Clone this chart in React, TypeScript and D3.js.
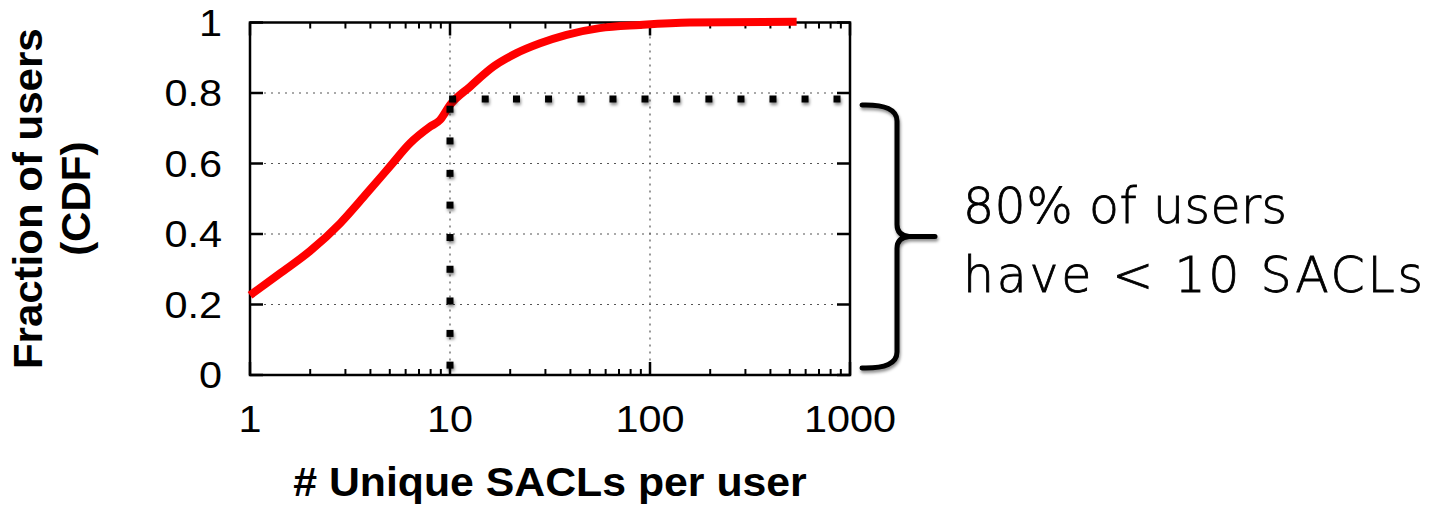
import React from "react";
import * as d3 from "d3";

// CDF curve: # unique SACLs per user vs fraction of users
const cdfX = [1, 1.41, 2, 2.82, 3.83, 5, 6.3, 7.94, 8.9, 10, 12.6, 16.5, 21.5, 28.2, 38.3, 56, 89, 158, 541];
const cdfY = [0.226, 0.288, 0.352, 0.43, 0.515, 0.591, 0.657, 0.704, 0.723, 0.766, 0.818, 0.875, 0.913, 0.941, 0.965, 0.984, 0.993, 1.0, 1.002];

// dotted marker guide: vertical at x=10, horizontal at y≈0.78
const vMarkX = 10;
const vMarkY = [0.028, 0.118, 0.21, 0.3, 0.39, 0.482, 0.572, 0.664, 0.754];
const hMarkY = 0.783;
const hMarkX = [10.3, 15, 21.5, 31.1, 45.2, 65.3, 94.4, 136, 197, 285, 412, 596, 861];

const xTicks = [1, 10, 100, 1000];
const yTicks = [0, 0.2, 0.4, 0.6, 0.8, 1];
const yGrid = [0.2, 0.4, 0.6, 0.8];
const xGrid = [10, 100];

const xLabel = "# Unique SACLs per user";
const yLabelLines = ["Fraction of users", "(CDF)"];
const annotationLines = ["80% of users", "have < 10 SACLs"];
const annotationWidths = [324, 460];

export default function App() {
  const left = 250, right = 850, top = 22.5, bottom = 375;
  const x = d3.scaleLog().domain([1, 1000]).range([left, right]);
  const y = d3.scaleLinear().domain([0, 1]).range([bottom, top]);

  const minor: number[] = [];
  for (const dec of [1, 10, 100]) for (let k = 2; k <= 9; k++) minor.push(dec * k);

  const line = d3.line<number>().x((_, i) => x(cdfX[i])).y((d) => y(d)).curve(d3.curveMonotoneX);

  const markers: [number, number][] = [
    ...vMarkY.map((v) => [vMarkX, v] as [number, number]),
    ...hMarkX.map((v) => [v, hMarkY] as [number, number]),
  ];

  const bTop = y(0.78) + 5, bBot = y(0) - 7, bMid = (bTop + bBot) / 2;
  const bx0 = 862, bx1 = 897, bx2 = 935;
  const brace = `M ${bx0} ${bTop} Q ${bx1} ${bTop - 1} ${bx1} ${bTop + 16} L ${bx1} ${bMid - 12} Q ${bx1} ${bMid - 1} ${bx1 + 12} ${bMid} L ${bx2} ${bMid} M ${bx1 + 12} ${bMid} Q ${bx1} ${bMid + 1} ${bx1} ${bMid + 12} L ${bx1} ${bBot - 16} Q ${bx1} ${bBot + 1} ${bx0} ${bBot}`;

  const tickFont = "'Liberation Sans', Arial, sans-serif";

  return (
    <svg width={1441} height={506} style={{ display: "block", position: "absolute", left: 0, top: 0 }}>
      <defs>
        <filter id="sh" x="-50%" y="-50%" width="200%" height="200%">
          <feDropShadow dx="1" dy="2.5" stdDeviation="1.6" floodColor="#000" floodOpacity="0.45" />
        </filter>
      </defs>
      <rect width={1441} height={506} fill="#fff" />
      {/* grid */}
      {yGrid.map((v) => (
        <line key={"gy" + v} x1={left} x2={right} y1={y(v)} y2={y(v)} stroke="#555" strokeWidth={1.2} strokeDasharray="2,5" />
      ))}
      {xGrid.map((v) => (
        <line key={"gx" + v} x1={x(v)} x2={x(v)} y1={top} y2={bottom} stroke="#555" strokeWidth={1.2} strokeDasharray="2,5" />
      ))}
      {/* ticks */}
      {yTicks.map((v) => (
        <g key={"yt" + v}>
          <line x1={left} x2={left + 13} y1={y(v)} y2={y(v)} stroke="#000" strokeWidth={2.5} />
          <line x1={right} x2={right - 13} y1={y(v)} y2={y(v)} stroke="#000" strokeWidth={2.5} />
          <text transform={`translate(222, ${y(v)}) scale(1.12, 1)`} dy="0.36em" textAnchor="end" fontFamily={tickFont} fontSize={37}>{String(v)}</text>
        </g>
      ))}
      {xTicks.map((v) => (
        <g key={"xt" + v}>
          <line x1={x(v)} x2={x(v)} y1={bottom} y2={bottom - 13} stroke="#000" strokeWidth={2.5} />
          <line x1={x(v)} x2={x(v)} y1={top} y2={top + 13} stroke="#000" strokeWidth={2.5} />
          <text transform={`translate(${x(v)}, 432) scale(1.12, 1)`} textAnchor="middle" fontFamily={tickFont} fontSize={37}>{String(v)}</text>
        </g>
      ))}
      {minor.map((v) => (
        <g key={"mt" + v}>
          <line x1={x(v)} x2={x(v)} y1={bottom} y2={bottom - 6} stroke="#000" strokeWidth={2} />
          <line x1={x(v)} x2={x(v)} y1={top} y2={top + 6} stroke="#000" strokeWidth={2} />
        </g>
      ))}
      {/* frame */}
      <rect x={left} y={top} width={right - left} height={bottom - top} fill="none" stroke="#000" strokeWidth={2.5} />
      {/* CDF */}
      <path d={line(cdfY) || ""} fill="none" stroke="#ff0000" strokeWidth={8} strokeLinejoin="round" />
      {/* markers */}
      <g filter="url(#sh)">
        {markers.map(([mx, my], i) => (
          <rect key={"m" + i} x={x(mx) - 3.5} y={y(my) - 3.5} width={7} height={7} fill="#000" />
        ))}
      </g>
      {/* brace */}
      <path d={brace} fill="none" stroke="#000" strokeWidth={5} strokeLinecap="round" filter="url(#sh)" />
      {annotationLines.map((t, i) => (
        <text key={t} x={963} y={223 + i * 69} textLength={annotationWidths[i]} lengthAdjust="spacing"
          fontFamily="'DejaVu Sans', sans-serif" fontWeight={200} fontSize={49} stroke="#000" strokeWidth={0.8}>{t}</text>
      ))}
      {/* axis labels */}
      <text transform={`translate(${(left + right) / 2}, 496) scale(1.07, 1)`} textAnchor="middle" fontFamily={tickFont} fontWeight="bold" fontSize={40}>{xLabel}</text>
      <g transform={`translate(42, ${(top + bottom) / 2}) rotate(-90) scale(1.05, 1)`}>
        {yLabelLines.map((t, i) => (
          <text key={t} x={0} y={i * 48} textAnchor="middle" fontFamily={tickFont} fontWeight="bold" fontSize={40}>{t}</text>
        ))}
      </g>
    </svg>
  );
}
